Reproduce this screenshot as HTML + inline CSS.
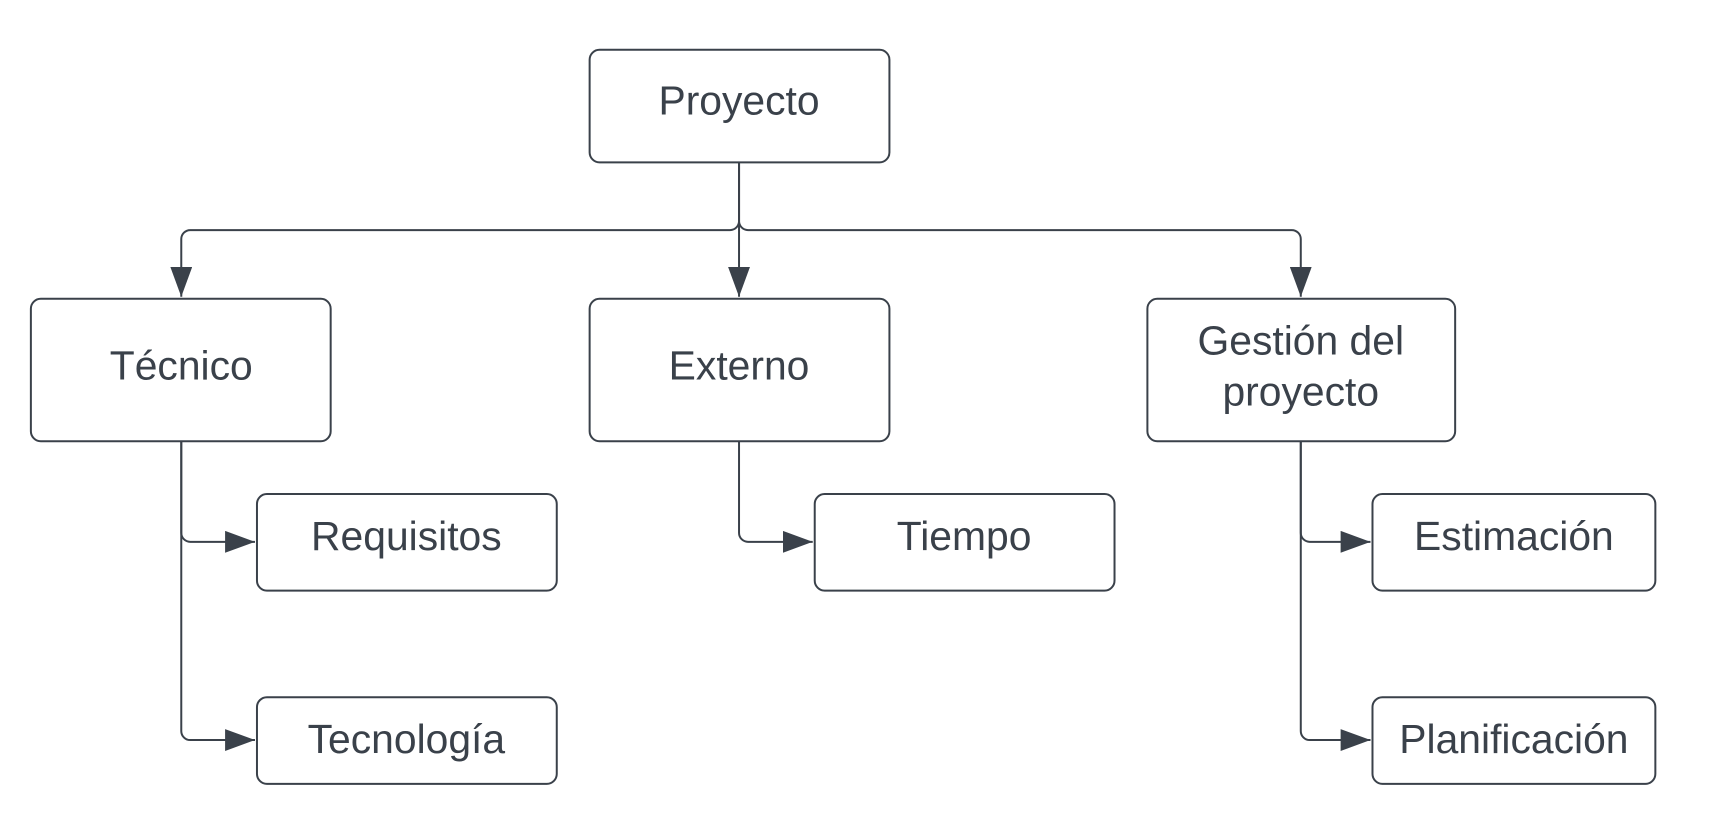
<!DOCTYPE html>
<html><head><meta charset="utf-8"><style>
body{margin:0;background:#fff;}
svg{display:block}
text{font-family:"Liberation Sans",sans-serif;font-size:41px;fill:#3a414a;text-anchor:middle;dominant-baseline:central}
</style></head><body>
<svg width="1710" height="834" viewBox="0 0 1710 834">
<defs>
<marker id="b" markerWidth="30" markerHeight="22" refX="30" refY="11" orient="auto" markerUnits="userSpaceOnUse"><path d="M0,0L30,11L0,22z" fill="#3a414a"/></marker></defs>
<g transform="scale(0.996)">
<g fill="none" stroke="#3a414a" stroke-width="2">
<path d="M742,163V222a9,9 0 0 1 -9,9H191a9,9 0 0 0 -9,9V298" marker-end="url(#b)"/>
<path d="M742,163V222a9,9 0 0 0 9,9H1297a9,9 0 0 1 9,9V298" marker-end="url(#b)"/>
<path d="M742,163V298" marker-end="url(#b)"/>
<path d="M182,443V535a9,9 0 0 0 9,9H256" marker-end="url(#b)"/>
<path d="M182,443V734a9,9 0 0 0 9,9H256" marker-end="url(#b)"/>
<path d="M742,443V535a9,9 0 0 0 9,9H816" marker-end="url(#b)"/>
<path d="M1306,443V535a9,9 0 0 0 9,9H1376" marker-end="url(#b)"/>
<path d="M1306,443V734a9,9 0 0 0 9,9H1376" marker-end="url(#b)"/>
<rect x="592" y="50" width="301" height="113" rx="10"/>
<rect x="31" y="300" width="301" height="143" rx="10"/>
<rect x="592" y="300" width="301" height="143" rx="10"/>
<rect x="1152" y="300" width="309" height="143" rx="10"/>
<rect x="258" y="496" width="301" height="97" rx="10"/>
<rect x="258" y="700" width="301" height="87" rx="10"/>
<rect x="818" y="496" width="301" height="97" rx="10"/>
<rect x="1378" y="496" width="284" height="97" rx="10"/>
<rect x="1378" y="700" width="284" height="87" rx="10"/>
</g>
<text x="742" y="101">Proyecto</text>
<text x="182" y="367">Técnico</text>
<text x="742" y="367">Externo</text>
<text x="1306" y="342">Gestión del</text>
<text x="1306" y="393">proyecto</text>
<text x="408" y="538">Requisitos</text>
<text x="408" y="742">Tecnología</text>
<text x="968" y="538">Tiempo</text>
<text x="1520" y="538">Estimación</text>
<text x="1520" y="742">Planificación</text>
</g>
</svg>
</body></html>
